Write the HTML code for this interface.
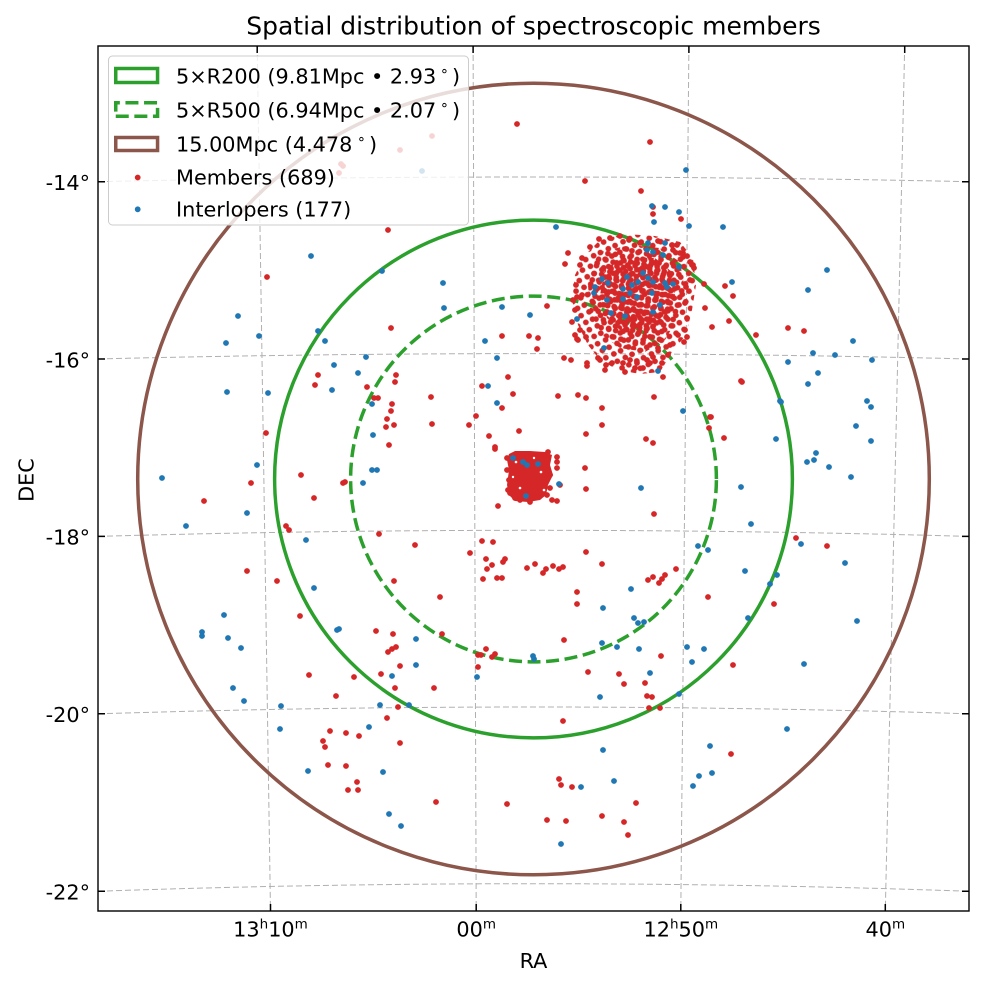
<!DOCTYPE html>
<html><head><meta charset="utf-8"><style>
html,body{margin:0;padding:0;background:#fff;}
svg{display:block;}
text{font-family:"DejaVu Sans","Liberation Sans",sans-serif;fill:#000;}
</style></head><body>
<svg width="984" height="986" viewBox="0 0 984 986" xmlns="http://www.w3.org/2000/svg">
<defs>
<clipPath id="ax"><rect x="98" y="46" width="871" height="865"/></clipPath>
<pattern id="pa" width="12" height="11" patternUnits="userSpaceOnUse" patternTransform="rotate(17)"><g fill="#d62728"><circle cx="0" cy="0" r="2.9"/><circle cx="12" cy="0" r="2.9"/><circle cx="0" cy="11" r="2.9"/><circle cx="12" cy="11" r="2.9"/><circle cx="6.5" cy="5" r="2.9"/></g></pattern>
<pattern id="pb" width="11" height="10" patternUnits="userSpaceOnUse" patternTransform="translate(3,4) rotate(-31)"><g fill="#d62728"><circle cx="0" cy="0" r="2.9"/><circle cx="11" cy="0" r="2.9"/><circle cx="0" cy="10" r="2.9"/><circle cx="11" cy="10" r="2.9"/><circle cx="5" cy="5.5" r="2.9"/></g></pattern>
<pattern id="pc" width="10" height="9" patternUnits="userSpaceOnUse" patternTransform="translate(5,2) rotate(52)"><g fill="#d62728"><circle cx="0" cy="0" r="2.9"/><circle cx="10" cy="0" r="2.9"/><circle cx="0" cy="9" r="2.9"/><circle cx="10" cy="9" r="2.9"/><circle cx="5" cy="4.5" r="2.9"/></g></pattern>
</defs>
<rect width="984" height="986" fill="#fff"/>
<text x="533.5" y="34.5" font-size="25" text-anchor="middle">Spatial distribution of spectroscopic members</text>
<g clip-path="url(#ax)">
<g fill="none" stroke="#b0b0b0" stroke-width="1" stroke-dasharray="6 3">
<path d="M98,181.67 Q533.5,172.33 969,181.67"/>
<path d="M98,358.97 Q533.5,348.23 969,358.97"/>
<path d="M98,536.39 Q533.5,524.21 969,536.39"/>
<path d="M98,713.82 Q533.5,700.18 969,713.82"/>
<path d="M98,891.27 Q533.5,876.13 969,891.27"/>
<path d="M257.2,46 L270.5,911"/>
<path d="M473.1,46 L476.2,911"/>
<path d="M688.9,46 L680.8,911"/>
<path d="M904.7,46 L885.3,911"/>
</g>
<g fill="none" stroke-width="3.5">
<circle cx="533.5" cy="479" r="395.8" stroke="#8c564b"/>
<circle cx="533.5" cy="479" r="258.9" stroke="#2ca02c"/>
<path d="M716.4,479 A182.9,182.9 0 1 0 350.6,479 A182.9,182.9 0 1 0 716.4,479" stroke="#2ca02c" stroke-dasharray="13 5.6"/>
</g>
<polygon points="600,240 625,234 655,236 680,242 693,258 696,285 692,310 686,335 672,352 660,372 640,374 618,370 600,360 588,345 578,325 572,300 575,275 585,255" fill="url(#pa)"/>
<polygon points="600,252 630,245 660,248 680,262 685,290 678,318 665,340 645,352 620,348 602,335 590,312 588,285 592,265" fill="url(#pb)"/>
<polygon points="605,268 625,258 655,258 672,272 675,295 665,320 645,335 622,332 607,318 600,295" fill="url(#pc)"/>
<polygon points="509,454 515,451 530,451 545,452 552,455 550,465 553,475 548,485 546,495 540,500 528,502 515,501 509,495 507,485 509,470 507,460" fill="#d62728"/>
<g fill="#fff">
<circle cx="516" cy="462" r="1.3"/><circle cx="541" cy="472" r="1.3"/><circle cx="520" cy="488" r="1.3"/><circle cx="534" cy="458" r="1.2"/><circle cx="513" cy="477" r="1.2"/><circle cx="544" cy="490" r="1.3"/>
</g>
<g fill="#d62728">
<circle cx="557" cy="457" r="2.9"/><circle cx="557" cy="462" r="2.9"/><circle cx="557" cy="468" r="2.9"/><circle cx="550" cy="475" r="2.9"/><circle cx="550" cy="488" r="2.9"/><circle cx="552" cy="500" r="2.9"/><circle cx="557" cy="501" r="2.9"/><circle cx="547" cy="495" r="2.9"/><circle cx="510" cy="493" r="2.9"/><circle cx="515" cy="498" r="2.9"/><circle cx="520" cy="500" r="2.9"/><circle cx="530" cy="502" r="2.9"/><circle cx="537" cy="497" r="2.9"/><circle cx="507" cy="458" r="2.9"/><circle cx="507" cy="470" r="2.9"/><circle cx="509" cy="480" r="2.9"/><circle cx="508" cy="490" r="2.9"/><circle cx="541" cy="455" r="2.9"/><circle cx="548" cy="452" r="2.9"/><circle cx="560" cy="485" r="2.9"/>
<circle cx="599" cy="239" r="2.9"/><circle cx="610" cy="238" r="2.9"/><circle cx="590" cy="247" r="2.9"/><circle cx="582" cy="258" r="2.9"/><circle cx="629" cy="240" r="2.9"/><circle cx="620" cy="236" r="2.9"/><circle cx="640" cy="243" r="2.9"/><circle cx="658" cy="241" r="2.9"/><circle cx="672" cy="245" r="2.9"/><circle cx="683" cy="253" r="2.9"/><circle cx="690" cy="262" r="2.9"/><circle cx="694" cy="268" r="2.9"/><circle cx="690" cy="280" r="2.9"/><circle cx="580" cy="265" r="2.9"/><circle cx="576" cy="285" r="2.9"/><circle cx="573" cy="300" r="2.9"/><circle cx="575" cy="310" r="2.9"/><circle cx="572" cy="322" r="2.9"/><circle cx="575" cy="335" r="2.9"/><circle cx="578" cy="340" r="2.9"/><circle cx="600" cy="360" r="2.9"/><circle cx="606" cy="365" r="2.9"/><circle cx="605" cy="370" r="2.9"/><circle cx="612" cy="363" r="2.9"/><circle cx="623" cy="363" r="2.9"/><circle cx="630" cy="360" r="2.9"/><circle cx="637" cy="363" r="2.9"/><circle cx="643" cy="368" r="2.9"/><circle cx="647" cy="360" r="2.9"/><circle cx="650" cy="363" r="2.9"/><circle cx="653" cy="357" r="2.9"/><circle cx="658" cy="348" r="2.9"/><circle cx="662" cy="363" r="2.9"/><circle cx="663" cy="377" r="2.9"/><circle cx="587" cy="363" r="2.9"/><circle cx="587" cy="366" r="2.9"/><circle cx="577" cy="339" r="2.9"/><circle cx="580" cy="330" r="2.9"/><circle cx="586" cy="337" r="2.9"/><circle cx="577" cy="297" r="2.9"/><circle cx="582" cy="295" r="2.9"/><circle cx="684" cy="342" r="2.9"/><circle cx="687" cy="337" r="2.9"/><circle cx="685" cy="330" r="2.9"/><circle cx="687" cy="318" r="2.9"/><circle cx="685" cy="303" r="2.9"/><circle cx="686" cy="287" r="2.9"/><circle cx="692" cy="265" r="2.9"/><circle cx="683" cy="257" r="2.9"/><circle cx="677" cy="245" r="2.9"/><circle cx="673" cy="250" r="2.9"/><circle cx="680" cy="253" r="2.9"/><circle cx="668" cy="355" r="2.9"/><circle cx="670" cy="345" r="2.9"/><circle cx="678" cy="335" r="2.9"/><circle cx="598" cy="358" r="2.9"/><circle cx="625" cy="372" r="2.9"/><circle cx="635" cy="368" r="2.9"/>
<circle cx="341" cy="164" r="2.9"/><circle cx="343" cy="166" r="2.9"/><circle cx="339" cy="173" r="2.9"/><circle cx="400" cy="150" r="2.9"/><circle cx="432" cy="136" r="2.9"/><circle cx="388" cy="230" r="2.9"/>
<circle cx="517" cy="124" r="2.9"/><circle cx="650" cy="142" r="2.9"/><circle cx="585" cy="181" r="2.9"/><circle cx="641" cy="191" r="2.9"/><circle cx="653" cy="207" r="2.9"/><circle cx="653" cy="214" r="2.9"/><circle cx="681" cy="219" r="2.9"/><circle cx="568" cy="253" r="2.9"/><circle cx="565" cy="264" r="2.9"/><circle cx="547" cy="306" r="2.9"/><circle cx="502" cy="336" r="2.9"/><circle cx="529" cy="336" r="2.9"/><circle cx="538" cy="338" r="2.9"/><circle cx="537" cy="349" r="2.9"/><circle cx="508" cy="377" r="2.9"/><circle cx="564" cy="358" r="2.9"/><circle cx="571" cy="360" r="2.9"/>
<circle cx="693" cy="265" r="2.9"/><circle cx="704" cy="284" r="2.9"/><circle cx="725" cy="286" r="2.9"/><circle cx="733" cy="296" r="2.9"/><circle cx="705" cy="308" r="2.9"/><circle cx="712" cy="327" r="2.9"/><circle cx="729" cy="321" r="2.9"/><circle cx="756" cy="335" r="2.9"/><circle cx="788" cy="328" r="2.9"/><circle cx="804" cy="331" r="2.9"/><circle cx="741" cy="381" r="2.9"/><circle cx="710" cy="417" r="2.9"/><circle cx="709" cy="428" r="2.9"/><circle cx="724" cy="438" r="2.9"/>
<circle cx="267" cy="277" r="2.9"/><circle cx="391" cy="328" r="2.9"/><circle cx="318" cy="375" r="2.9"/><circle cx="315" cy="385" r="2.9"/><circle cx="367" cy="387" r="2.9"/><circle cx="396" cy="375" r="2.9"/><circle cx="395" cy="382" r="2.9"/><circle cx="374" cy="398" r="2.9"/><circle cx="378" cy="398" r="2.9"/><circle cx="392" cy="404" r="2.9"/><circle cx="391" cy="411" r="2.9"/><circle cx="387" cy="419" r="2.9"/><circle cx="386" cy="427" r="2.9"/><circle cx="394" cy="425" r="2.9"/><circle cx="389" cy="445" r="2.9"/><circle cx="266" cy="433" r="2.9"/><circle cx="301" cy="475" r="2.9"/><circle cx="251" cy="483" r="2.9"/><circle cx="345" cy="482" r="2.9"/><circle cx="343" cy="483" r="2.9"/><circle cx="314" cy="498" r="2.9"/><circle cx="204" cy="501" r="2.9"/><circle cx="286" cy="526" r="2.9"/><circle cx="289" cy="530" r="2.9"/><circle cx="379" cy="534" r="2.9"/><circle cx="431" cy="397" r="2.9"/><circle cx="432" cy="424" r="2.9"/>
<circle cx="415" cy="545" r="2.9"/><circle cx="247" cy="571" r="2.9"/><circle cx="277" cy="581" r="2.9"/><circle cx="394" cy="581" r="2.9"/><circle cx="440" cy="597" r="2.9"/><circle cx="300" cy="616" r="2.9"/><circle cx="376" cy="631" r="2.9"/><circle cx="393" cy="634" r="2.9"/><circle cx="442" cy="634" r="2.9"/><circle cx="388" cy="652" r="2.9"/><circle cx="392" cy="649" r="2.9"/><circle cx="396" cy="647" r="2.9"/><circle cx="400" cy="666" r="2.9"/><circle cx="478" cy="655" r="2.9"/><circle cx="478" cy="667" r="2.9"/><circle cx="309" cy="675" r="2.9"/><circle cx="354" cy="677" r="2.9"/><circle cx="381" cy="674" r="2.9"/><circle cx="395" cy="688" r="2.9"/><circle cx="434" cy="688" r="2.9"/><circle cx="336" cy="696" r="2.9"/><circle cx="398" cy="707" r="2.9"/><circle cx="387" cy="718" r="2.9"/><circle cx="330" cy="731" r="2.9"/><circle cx="346" cy="733" r="2.9"/><circle cx="359" cy="736" r="2.9"/><circle cx="323" cy="741" r="2.9"/><circle cx="325" cy="747" r="2.9"/><circle cx="400" cy="743" r="2.9"/><circle cx="328" cy="765" r="2.9"/><circle cx="346" cy="766" r="2.9"/><circle cx="357" cy="782" r="2.9"/><circle cx="348" cy="790" r="2.9"/><circle cx="358" cy="790" r="2.9"/><circle cx="436" cy="802" r="2.9"/>
<circle cx="482" cy="386" r="2.9"/><circle cx="513" cy="394" r="2.9"/><circle cx="558" cy="396" r="2.9"/><circle cx="578" cy="395" r="2.9"/><circle cx="586" cy="398" r="2.9"/><circle cx="654" cy="397" r="2.9"/><circle cx="602" cy="408" r="2.9"/><circle cx="502" cy="408" r="2.9"/><circle cx="476" cy="416" r="2.9"/><circle cx="469" cy="425" r="2.9"/><circle cx="602" cy="425" r="2.9"/><circle cx="519" cy="431" r="2.9"/><circle cx="586" cy="434" r="2.9"/><circle cx="489" cy="436" r="2.9"/><circle cx="495" cy="447" r="2.9"/><circle cx="495" cy="449" r="2.9"/><circle cx="646" cy="439" r="2.9"/><circle cx="653" cy="443" r="2.9"/><circle cx="711" cy="417" r="2.9"/><circle cx="742" cy="382" r="2.9"/><circle cx="585" cy="468" r="2.9"/><circle cx="586" cy="489" r="2.9"/><circle cx="498" cy="506" r="2.9"/><circle cx="654" cy="514" r="2.9"/>
<circle cx="482" cy="541" r="2.9"/><circle cx="493" cy="542" r="2.9"/><circle cx="470" cy="553" r="2.9"/><circle cx="486" cy="559" r="2.9"/><circle cx="492" cy="565" r="2.9"/><circle cx="487" cy="569" r="2.9"/><circle cx="483" cy="579" r="2.9"/><circle cx="497" cy="578" r="2.9"/><circle cx="502" cy="578" r="2.9"/><circle cx="505" cy="559" r="2.9"/><circle cx="503" cy="562" r="2.9"/><circle cx="527" cy="568" r="2.9"/><circle cx="535" cy="564" r="2.9"/><circle cx="543" cy="573" r="2.9"/><circle cx="546" cy="569" r="2.9"/><circle cx="553" cy="566" r="2.9"/><circle cx="559" cy="569" r="2.9"/><circle cx="563" cy="567" r="2.9"/><circle cx="586" cy="552" r="2.9"/><circle cx="602" cy="564" r="2.9"/><circle cx="648" cy="580" r="2.9"/><circle cx="653" cy="577" r="2.9"/><circle cx="659" cy="583" r="2.9"/><circle cx="662" cy="579" r="2.9"/><circle cx="665" cy="575" r="2.9"/><circle cx="676" cy="569" r="2.9"/><circle cx="577" cy="592" r="2.9"/><circle cx="577" cy="604" r="2.9"/><circle cx="708" cy="597" r="2.9"/><circle cx="796" cy="538" r="2.9"/><circle cx="827" cy="546" r="2.9"/><circle cx="774" cy="604" r="2.9"/>
<circle cx="564" cy="640" r="2.9"/><circle cx="486" cy="649" r="2.9"/><circle cx="481" cy="655" r="2.9"/><circle cx="492" cy="657" r="2.9"/><circle cx="495" cy="654" r="2.9"/><circle cx="661" cy="656" r="2.9"/><circle cx="588" cy="672" r="2.9"/><circle cx="619" cy="674" r="2.9"/><circle cx="624" cy="684" r="2.9"/><circle cx="645" cy="683" r="2.9"/><circle cx="647" cy="696" r="2.9"/><circle cx="652" cy="697" r="2.9"/><circle cx="649" cy="708" r="2.9"/><circle cx="660" cy="708" r="2.9"/><circle cx="733" cy="665" r="2.9"/><circle cx="563" cy="721" r="2.9"/><circle cx="731" cy="754" r="2.9"/><circle cx="559" cy="779" r="2.9"/><circle cx="561" cy="785" r="2.9"/><circle cx="572" cy="787" r="2.9"/><circle cx="507" cy="804" r="2.9"/><circle cx="636" cy="803" r="2.9"/><circle cx="547" cy="820" r="2.9"/><circle cx="566" cy="821" r="2.9"/><circle cx="602" cy="816" r="2.9"/><circle cx="624" cy="822" r="2.9"/><circle cx="628" cy="835" r="2.9"/>
</g>
<g fill="#1f77b4">
<circle cx="422" cy="171" r="2.9"/>
<circle cx="686" cy="170" r="2.9"/><circle cx="652" cy="206" r="2.9"/><circle cx="665" cy="207" r="2.9"/><circle cx="679" cy="212" r="2.9"/><circle cx="654" cy="222" r="2.9"/><circle cx="689" cy="226" r="2.9"/><circle cx="723" cy="227" r="2.9"/><circle cx="556" cy="227" r="2.9"/><circle cx="732" cy="282" r="2.9"/><circle cx="502" cy="307" r="2.9"/><circle cx="530" cy="315" r="2.9"/><circle cx="485" cy="341" r="2.9"/><circle cx="497" cy="358" r="2.9"/><circle cx="488" cy="386" r="2.9"/><circle cx="577" cy="319" r="2.9"/><circle cx="604" cy="348" r="2.9"/><circle cx="658" cy="371" r="2.9"/>
<circle cx="827" cy="270" r="2.9"/><circle cx="808" cy="290" r="2.9"/><circle cx="853" cy="341" r="2.9"/><circle cx="813" cy="353" r="2.9"/><circle cx="835" cy="355" r="2.9"/><circle cx="872" cy="360" r="2.9"/><circle cx="788" cy="362" r="2.9"/><circle cx="818" cy="373" r="2.9"/><circle cx="808" cy="384" r="2.9"/><circle cx="780" cy="401" r="2.9"/><circle cx="867" cy="401" r="2.9"/><circle cx="871" cy="407" r="2.9"/><circle cx="856" cy="426" r="2.9"/><circle cx="871" cy="441" r="2.9"/><circle cx="776" cy="439" r="2.9"/>
<circle cx="311" cy="256" r="2.9"/><circle cx="382" cy="271" r="2.9"/><circle cx="238" cy="316" r="2.9"/><circle cx="259" cy="336" r="2.9"/><circle cx="226" cy="343" r="2.9"/><circle cx="318" cy="331" r="2.9"/><circle cx="325" cy="341" r="2.9"/><circle cx="366" cy="357" r="2.9"/><circle cx="334" cy="365" r="2.9"/><circle cx="358" cy="373" r="2.9"/><circle cx="332" cy="390" r="2.9"/><circle cx="227" cy="392" r="2.9"/><circle cx="268" cy="393" r="2.9"/><circle cx="372" cy="404" r="2.9"/><circle cx="373" cy="435" r="2.9"/><circle cx="257" cy="465" r="2.9"/><circle cx="372" cy="470" r="2.9"/><circle cx="377" cy="470" r="2.9"/><circle cx="363" cy="483" r="2.9"/><circle cx="162" cy="478" r="2.9"/><circle cx="247" cy="513" r="2.9"/><circle cx="186" cy="526" r="2.9"/><circle cx="306" cy="540" r="2.9"/><circle cx="443" cy="283" r="2.9"/><circle cx="444" cy="308" r="2.9"/>
<circle cx="314" cy="588" r="2.9"/><circle cx="224" cy="615" r="2.9"/><circle cx="202" cy="632" r="2.9"/><circle cx="202" cy="636" r="2.9"/><circle cx="228" cy="638" r="2.9"/><circle cx="241" cy="648" r="2.9"/><circle cx="337" cy="630" r="2.9"/><circle cx="339" cy="629" r="2.9"/><circle cx="416" cy="639" r="2.9"/><circle cx="416" cy="665" r="2.9"/><circle cx="392" cy="676" r="2.9"/><circle cx="477" cy="677" r="2.9"/><circle cx="233" cy="688" r="2.9"/><circle cx="244" cy="701" r="2.9"/><circle cx="281" cy="706" r="2.9"/><circle cx="380" cy="705" r="2.9"/><circle cx="409" cy="705" r="2.9"/><circle cx="280" cy="729" r="2.9"/><circle cx="369" cy="727" r="2.9"/><circle cx="308" cy="771" r="2.9"/><circle cx="383" cy="772" r="2.9"/><circle cx="389" cy="814" r="2.9"/><circle cx="401" cy="826" r="2.9"/>
<circle cx="497" cy="403" r="2.9"/><circle cx="683" cy="411" r="2.9"/><circle cx="781" cy="402" r="2.9"/><circle cx="816" cy="453" r="2.9"/><circle cx="807" cy="462" r="2.9"/><circle cx="814" cy="460" r="2.9"/><circle cx="829" cy="467" r="2.9"/><circle cx="851" cy="477" r="2.9"/><circle cx="741" cy="487" r="2.9"/><circle cx="641" cy="488" r="2.9"/><circle cx="751" cy="524" r="2.9"/><circle cx="698" cy="546" r="2.9"/><circle cx="708" cy="550" r="2.9"/><circle cx="801" cy="544" r="2.9"/><circle cx="845" cy="563" r="2.9"/><circle cx="745" cy="571" r="2.9"/><circle cx="777" cy="575" r="2.9"/><circle cx="770" cy="584" r="2.9"/><circle cx="631" cy="589" r="2.9"/><circle cx="603" cy="608" r="2.9"/><circle cx="748" cy="618" r="2.9"/><circle cx="857" cy="621" r="2.9"/><circle cx="634" cy="618" r="2.9"/><circle cx="638" cy="623" r="2.9"/><circle cx="644" cy="622" r="2.9"/><circle cx="602" cy="643" r="2.9"/><circle cx="617" cy="647" r="2.9"/><circle cx="639" cy="649" r="2.9"/><circle cx="687" cy="647" r="2.9"/><circle cx="704" cy="649" r="2.9"/><circle cx="692" cy="662" r="2.9"/><circle cx="533" cy="656" r="2.9"/><circle cx="534" cy="659" r="2.9"/><circle cx="650" cy="673" r="2.9"/><circle cx="600" cy="697" r="2.9"/><circle cx="679" cy="694" r="2.9"/><circle cx="804" cy="664" r="2.9"/><circle cx="787" cy="729" r="2.9"/><circle cx="603" cy="750" r="2.9"/><circle cx="710" cy="746" r="2.9"/><circle cx="699" cy="776" r="2.9"/><circle cx="712" cy="773" r="2.9"/><circle cx="693" cy="786" r="2.9"/><circle cx="614" cy="781" r="2.9"/><circle cx="581" cy="787" r="2.9"/><circle cx="561" cy="844" r="2.9"/>
<circle cx="513" cy="458" r="2.9"/><circle cx="523" cy="462" r="2.9"/><circle cx="527" cy="465" r="2.9"/><circle cx="538" cy="464" r="2.9"/><circle cx="559" cy="484" r="2.9"/><circle cx="526" cy="496" r="2.9"/>
<circle cx="595" cy="287" r="2.9"/><circle cx="602" cy="279" r="2.9"/><circle cx="608" cy="283" r="2.9"/><circle cx="627" cy="277" r="2.9"/><circle cx="632" cy="285" r="2.9"/><circle cx="638" cy="282" r="2.9"/><circle cx="643" cy="273" r="2.9"/><circle cx="648" cy="278" r="2.9"/><circle cx="653" cy="282" r="2.9"/><circle cx="665" cy="283" r="2.9"/><circle cx="673" cy="284" r="2.9"/><circle cx="623" cy="289" r="2.9"/><circle cx="630" cy="293" r="2.9"/><circle cx="637" cy="297" r="2.9"/><circle cx="652" cy="293" r="2.9"/><circle cx="607" cy="300" r="2.9"/><circle cx="623" cy="299" r="2.9"/><circle cx="660" cy="305" r="2.9"/><circle cx="653" cy="312" r="2.9"/><circle cx="611" cy="313" r="2.9"/><circle cx="625" cy="316" r="2.9"/><circle cx="648" cy="243" r="2.9"/><circle cx="665" cy="243" r="2.9"/><circle cx="653" cy="252" r="2.9"/><circle cx="679" cy="267" r="2.9"/><circle cx="663" cy="255" r="2.9"/><circle cx="594" cy="293" r="2.9"/><circle cx="667" cy="287" r="2.9"/><circle cx="647" cy="250" r="2.9"/>
</g>
</g>
<rect x="98" y="46" width="871" height="865" fill="none" stroke="#000" stroke-width="1.4"/>
<g stroke="#000" stroke-width="1.5">
<path d="M98,181.7h7M98,359h7M98,536.4h7M98,713.8h7M98,891.3h7"/>
<path d="M969,181.7h-7M969,359h-7M969,536.4h-7M969,713.8h-7M969,891.3h-7"/>
<path d="M257.2,46v7M473.1,46v7M688.9,46v7M904.7,46v7"/>
<path d="M270.5,911v-7M476.2,911v-7M680.8,911v-7M885.3,911v-7"/>
</g>
<g font-size="20.8" text-anchor="end">
<text x="90" y="190">-14°</text>
<text x="90" y="367.3">-16°</text>
<text x="90" y="544.7">-18°</text>
<text x="90" y="722.1">-20°</text>
<text x="90" y="899.6">-22°</text>
</g>
<g font-size="20.8" text-anchor="middle">
<text x="270.5" y="936.7">13<tspan font-size="13.5" dy="-8.4">h</tspan><tspan dy="8.4">10</tspan><tspan font-size="13.5" dy="-8.4">m</tspan></text>
<text x="476.2" y="936.7">00<tspan font-size="13.5" dy="-8.4">m</tspan></text>
<text x="680.8" y="936.7">12<tspan font-size="13.5" dy="-8.4">h</tspan><tspan dy="8.4">50</tspan><tspan font-size="13.5" dy="-8.4">m</tspan></text>
<text x="885.3" y="936.7">40<tspan font-size="13.5" dy="-8.4">m</tspan></text>
<text x="533.5" y="968">RA</text>
<text transform="translate(33.5,480) rotate(-90)">DEC</text>
</g>
<rect x="108.5" y="56" width="360" height="169" rx="4" ry="4" fill="#fff" fill-opacity="0.8" stroke="#cccccc" stroke-width="1"/>
<g fill="none" stroke-width="3.5">
<rect x="115.75" y="68.5" width="41.8" height="14" stroke="#2ca02c"/>
<path d="M115.75,116.25 H157.55 V102.75 H115.75 Z" stroke="#2ca02c" stroke-dasharray="13 5.6"/>
<rect x="115.75" y="137.5" width="41.8" height="13" stroke="#8c564b"/>
</g>
<circle cx="137.7" cy="177.5" r="2.9" fill="#d62728"/>
<circle cx="137.7" cy="209.3" r="2.9" fill="#1f77b4"/>
<g font-size="20.8">
<text x="176" y="83.5">5×R200 (9.81Mpc • 2.93<tspan x="440" dy="-8" font-size="14">∘</tspan><tspan x="452" dy="8">)</tspan></text>
<text x="176" y="117.5">5×R500 (6.94Mpc • 2.07<tspan x="440" dy="-8" font-size="14">∘</tspan><tspan x="452" dy="8">)</tspan></text>
<text x="176" y="151.5">15.00Mpc (4.478<tspan x="357" dy="-8" font-size="14">∘</tspan><tspan x="369" dy="8">)</tspan></text>
<text x="176" y="184.5">Members (689)</text>
<text x="176" y="216.3">Interlopers (177)</text>
</g>
</svg>
</body></html>
